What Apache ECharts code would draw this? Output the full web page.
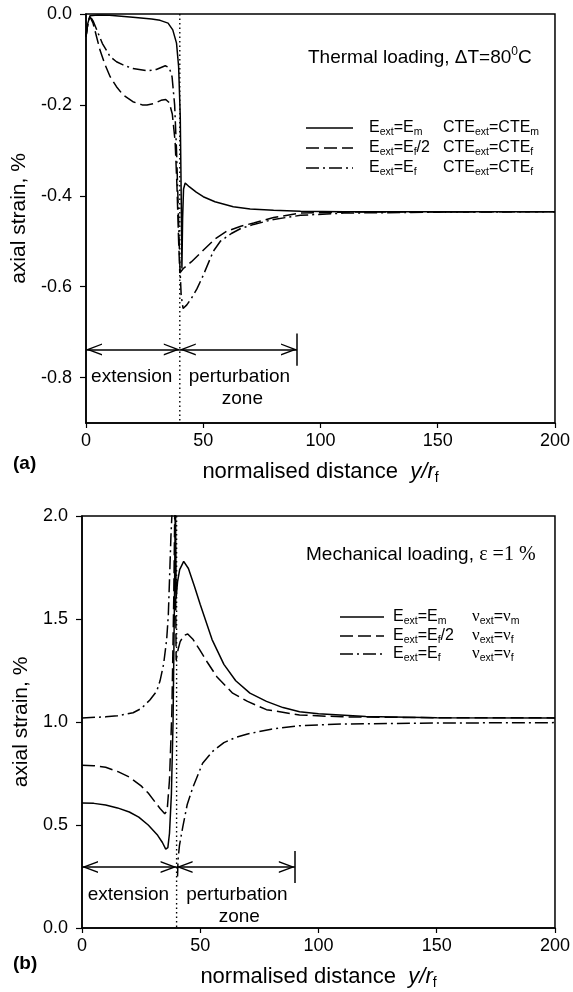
<!DOCTYPE html>
<html>
<head>
<meta charset="utf-8">
<title>axial strain</title>
<script src="https://cdn.jsdelivr.net/npm/echarts@6/dist/echarts.min.js"></script>
<style>html,body{margin:0;padding:0;background:#fff;}</style>
</head>
<body>
<div id="main" style="width:573px;height:992px;"></div>
<script>
// (a) thermal loading, dT = 80 C   -> [y/rf, axial strain %]
var thermalMatrix = [[0,-0.05],[0.8,-0.02],[1.7,-0.004],[5,-0.002],[10,-0.003],[20,-0.007],[28,-0.011],[31.6,-0.014],[35,-0.02],
    [37,-0.035],[38.6,-0.064],[39.5,-0.116],[40.2,-0.226],[40.6,-0.4],[40.9,-0.56],[41.2,-0.45],[41.6,-0.385],[42.3,-0.372],
    [44,-0.38],[47,-0.392],[50,-0.402],[55,-0.413],[62.8,-0.424],[70,-0.429],[80,-0.432],[91.5,-0.434],[110,-0.435],[200,-0.435]];
var thermalHalf = [[0,-0.05],[0.8,-0.02],[1.7,-0.006],[3,-0.02],[4.5,-0.05],[6,-0.08],[8,-0.11],[10.3,-0.138],[13,-0.16],
    [15.8,-0.178],[20,-0.193],[24,-0.2],[26,-0.2],[29,-0.197],[32,-0.19],[34,-0.188],[35.5,-0.195],[36.8,-0.22],[38,-0.28],
    [38.8,-0.38],[39.5,-0.5],[40,-0.57],[40.7,-0.57],[41.5,-0.56],[42.3,-0.558],[45,-0.545],[50,-0.52],[55,-0.495],[60,-0.478],
    [66,-0.467],[71.5,-0.46],[80,-0.448],[91.5,-0.438],[110,-0.436],[200,-0.435]];
var thermalFibre = [[0,-0.05],[0.8,-0.02],[1.7,-0.005],[3,-0.015],[5,-0.04],[7,-0.065],[10.3,-0.094],[13,-0.105],[15.8,-0.112],
    [20,-0.12],[26,-0.125],[30,-0.122],[33.8,-0.114],[35.5,-0.118],[36.7,-0.138],[37.8,-0.2],[38.6,-0.3],[39.3,-0.42],[40,-0.55],
    [40.6,-0.62],[41.4,-0.648],[43,-0.64],[45,-0.625],[47.3,-0.605],[50,-0.575],[54.3,-0.522],[57.3,-0.5],[62,-0.483],
    [66,-0.472],[71.5,-0.463],[80,-0.452],[91.5,-0.443],[110,-0.438],[150,-0.436],[200,-0.435]];

// (b) mechanical loading, eps = 1 %
var mechMatrix = [[0,0.607],[5,0.605],[10,0.597],[15,0.583],[20,0.563],[24,0.538],[28,0.5],[32,0.45],[34,0.415],[35.4,0.383],
    [36.3,0.39],[37,0.46],[37.8,0.65],[38.5,1.0],[39.1,1.6],[39.5,2.1],[39.8,1.6],[40.4,1.68],[41.3,1.74],[43,1.78],[45,1.745],
    [47.5,1.66],[50,1.57],[55,1.4],[60,1.28],[65,1.2],[71,1.14],[78,1.1],[85,1.07],[92,1.05],[100,1.04],[120,1.027],
    [150,1.021],[200,1.02]];
var mechHalf = [[0,0.79],[5,0.788],[10,0.78],[15,0.76],[20,0.733],[25,0.69],[28,0.655],[31,0.61],[33,0.58],[35,0.555],[36,0.57],
    [37,0.72],[38,1.05],[38.8,1.6],[39.3,2.1],[39.8,1.3],[40.6,1.35],[41.5,1.39],[43,1.42],[44.7,1.427],[47,1.4],[49.8,1.35],
    [53,1.29],[57,1.22],[63.7,1.14],[70,1.1],[78,1.06],[92,1.034],[110,1.025],[150,1.021],[200,1.02]];
var mechFibreLeft = [[0,1.02],[10,1.025],[15,1.03],[21.6,1.045],[25,1.065],[28.7,1.107],[31.6,1.15],[33,1.2],[34.5,1.28],
    [35.8,1.4],[36.5,1.52],[37,1.69],[37.6,1.9],[38,2.0],[38.3,2.15]];
var mechFibreRight = [[40.4,0.25],[40.6,0.33],[41.2,0.4],[42.6,0.49],[44.5,0.6],[46.8,0.68],[51,0.8],[55,0.855],[60,0.9],
    [65,0.925],[70,0.942],[80,0.965],[92,0.982],[110,0.99],[150,0.995],[200,0.997]];

var thermalYTicks = [0, -0.2, -0.4, -0.6, -0.8];
var thermalYRange = [-0.9, 0];
var mechYRange = [0, 2];
var xRange = [0, 200];

// extension / perturbation zone markers
var interfaceX = 40;
var zoneEndX = 90;
var thermalArrowY = -0.738;
var thermalBar = [-0.703, -0.774];
var mechArrowY = 0.296;
var mechBar = [0.218, 0.374];
var thermalNotes = [[19.5, -0.798, 'extension'], [65.4, -0.798, 'perturbation'], [66.7, -0.846, 'zone']];
var mechNotes = [[19.6, 0.16, 'extension'], [65.5, 0.16, 'perturbation'], [66.5, 0.053, 'zone']];

var thermalLegendE = ['E{s|ext}=E{s|m}', 'E{s|ext}=E{s|f}/2', 'E{s|ext}=E{s|f}'];
var thermalLegendC = ['CTE{s|ext}=CTE{s|m}', 'CTE{s|ext}=CTE{s|f}', 'CTE{s|ext}=CTE{s|f}'];
var mechLegendE = ['E{s|ext}=E{s|m}', 'E{s|ext}=E{s|f}/2', 'E{s|ext}=E{s|f}'];
var mechLegendN = ['{g|\u03bd}{s|ext}={g|\u03bd}{s|m}', '{g|\u03bd}{s|ext}={g|\u03bd}{s|f}', '{g|\u03bd}{s|ext}={g|\u03bd}{s|f}'];

var FONT = '"Liberation Sans", Arial, sans-serif';
var SERIF = '"Liberation Serif", "Times New Roman", serif';
var dashes = ['solid', [13, 5], [13, 4, 2, 4]];

var myChart = echarts.init(document.getElementById('main'));

function xAx(grid) {
    return {
        gridIndex: grid, type: 'value', min: xRange[0], max: xRange[1], interval: 50,
        axisLine: {onZero: false, lineStyle: {color: '#000', width: 1.5}},
        axisTick: {length: 5, lineStyle: {color: '#000', width: 1.2}},
        axisLabel: {color: '#000', fontSize: 18, fontFamily: FONT, margin: 9},
        splitLine: {show: false},
        name: 'normalised distance  {i|y/r}{s|f}', nameLocation: 'middle', nameGap: 36,
        nameTextStyle: {color: '#000', fontSize: 22, fontFamily: FONT, lineHeight: 26,
            rich: {i: {fontSize: 22, fontStyle: 'italic', fontFamily: FONT, lineHeight: 26},
                   s: {fontSize: 14, fontFamily: FONT, lineHeight: 12, verticalAlign: 'bottom'}}}
    };
}
function yAx(grid, range, extra) {
    var a = {
        gridIndex: grid, type: 'value', min: range[0], max: range[1],
        axisLine: {onZero: false, lineStyle: {color: '#000', width: 1.5}},
        axisTick: {length: 6, lineStyle: {color: '#000', width: 1.2}},
        axisLabel: {color: '#000', fontSize: 18, fontFamily: FONT, margin: 14,
            formatter: function (v) { return (Math.abs(v) < 1e-9 ? 0 : v).toFixed(1); }},
        splitLine: {show: false},
        name: 'axial strain, %', nameLocation: 'middle', nameRotate: 90, nameGap: 50,
        nameTextStyle: {color: '#000', fontSize: 21, fontFamily: FONT}
    };
    for (var k in extra) a[k] = extra[k];
    return a;
}
function curve(data, idx, dash) {
    return {type: 'line', xAxisIndex: idx, yAxisIndex: idx, data: data, symbol: 'none', smooth: false,
        lineStyle: {color: '#000', width: 1.5, type: dash}, z: 3};
}
// open chevron, tip sits on the end point
var chevron = 'path://M0,100 L50,0 L100,100 L88,100 L50,24 L12,100 Z M50,-100 L50.4,-100 L50,-99.6 Z';

function zoneSeries(idx, yTop, yBot, arrowY, bar) {
    return {
        type: 'line', xAxisIndex: idx, yAxisIndex: idx, symbol: 'none', silent: true,
        data: [[interfaceX, yTop], [interfaceX, yBot]],
        lineStyle: {color: '#000', width: 1.4, type: [1.5, 3]},
        markLine: {
            silent: true, animation: false, symbol: [chevron, chevron], symbolSize: [12, 32],
            label: {show: false}, lineStyle: {color: '#000', width: 1.5, type: 'solid'},
            data: [
                [{coord: [xRange[0], arrowY]}, {coord: [interfaceX, arrowY]}],
                [{coord: [interfaceX, arrowY]}, {coord: [zoneEndX, arrowY]}],
                [{coord: [zoneEndX, bar[0]], symbol: 'none'}, {coord: [zoneEndX, bar[1]], symbol: 'none'}]
            ]
        }
    };
}
function noteSeries(idx, notes) {
    return {
        type: 'scatter', xAxisIndex: idx, yAxisIndex: idx, symbolSize: 0, silent: true, data: notes,
        itemStyle: {opacity: 1},
        label: {show: true, position: 'inside', color: '#000', opacity: 1, fontSize: 19, fontFamily: FONT,
            formatter: function (p) { return p.value[2]; }}
    };
}

var graphics = [
    {type: 'text', left: 13, top: 454, style: {text: '(a)', font: 'bold 19px ' + FONT, fill: '#000'}},
    {type: 'text', left: 13, top: 954, style: {text: '(b)', font: 'bold 19px ' + FONT, fill: '#000'}},
    {type: 'text', x: 308, y: 58, style: {text: 'Thermal loading, \u0394T=80{sup|0}C', font: '19px ' + FONT, fill: '#000',
        verticalAlign: 'middle', lineHeight: 24, rich: {sup: {fontSize: 12, fontFamily: FONT, lineHeight: 10, verticalAlign: 'top'}}}},
    {type: 'text', x: 306, y: 555, style: {text: 'Mechanical loading, {t|\u03b5 =1 %}', font: '19px ' + FONT, fill: '#000',
        verticalAlign: 'middle', lineHeight: 24, rich: {t: {fontSize: 20, fontFamily: SERIF, lineHeight: 24}}}}
];
var subRich = {s: {fontSize: 10.5, fontFamily: FONT, lineHeight: 10, verticalAlign: 'bottom'},
               g: {fontSize: 17, fontFamily: SERIF, lineHeight: 20}};
function legendRows(x1, x2, xt1, xt2, ys, colA, colB) {
    ys.forEach(function (y, i) {
        graphics.push({type: 'line', shape: {x1: x1, y1: y, x2: x2, y2: y},
            style: {stroke: '#000', lineWidth: 1.5, lineDash: i === 0 ? null : dashes[i]}});
        graphics.push({type: 'text', x: xt1, y: y, style: {text: colA[i], font: '16px ' + FONT, fill: '#000',
            verticalAlign: 'middle', lineHeight: 20, rich: subRich}});
        graphics.push({type: 'text', x: xt2, y: y, style: {text: colB[i], font: '16px ' + FONT, fill: '#000',
            verticalAlign: 'middle', lineHeight: 20, rich: subRich}});
    });
}
legendRows(306, 353, 369, 443, [128, 148, 168], thermalLegendE, thermalLegendC);
legendRows(340, 384, 393, 472, [617, 636, 654], mechLegendE, mechLegendN);

var option = {
    animation: false,
    backgroundColor: '#fff',
    grid: [
        {left: 86, top: 14, width: 471, height: 409, show: true, borderColor: '#000', borderWidth: 1.5},
        {left: 82, top: 516, width: 474, height: 412, show: true, borderColor: '#000', borderWidth: 1.5}
    ],
    xAxis: [xAx(0), xAx(1)],
    yAxis: [
        yAx(0, thermalYRange, {axisLabel: {color: '#000', fontSize: 18, fontFamily: FONT, margin: 14, customValues: thermalYTicks,
                formatter: function (v) { return (Math.abs(v) < 1e-9 ? 0 : v).toFixed(1); }},
            axisTick: {length: 6, customValues: thermalYTicks, lineStyle: {color: '#000', width: 1.2}}}),
        yAx(1, mechYRange, {interval: 0.5, nameGap: 46})
    ],
    graphic: graphics,
    series: [
        curve(thermalMatrix, 0, dashes[0]),
        curve(thermalHalf, 0, dashes[1]),
        curve(thermalFibre, 0, dashes[2]),
        zoneSeries(0, thermalYRange[1], thermalYRange[0], thermalArrowY, thermalBar),
        noteSeries(0, thermalNotes),
        curve(mechMatrix, 1, dashes[0]),
        curve(mechHalf, 1, dashes[1]),
        curve(mechFibreLeft, 1, dashes[2]),
        curve(mechFibreRight, 1, dashes[2]),
        zoneSeries(1, mechYRange[1], mechYRange[0], mechArrowY, mechBar),
        noteSeries(1, mechNotes)
    ]
};

myChart.setOption(option);
</script>
</body>
</html>
